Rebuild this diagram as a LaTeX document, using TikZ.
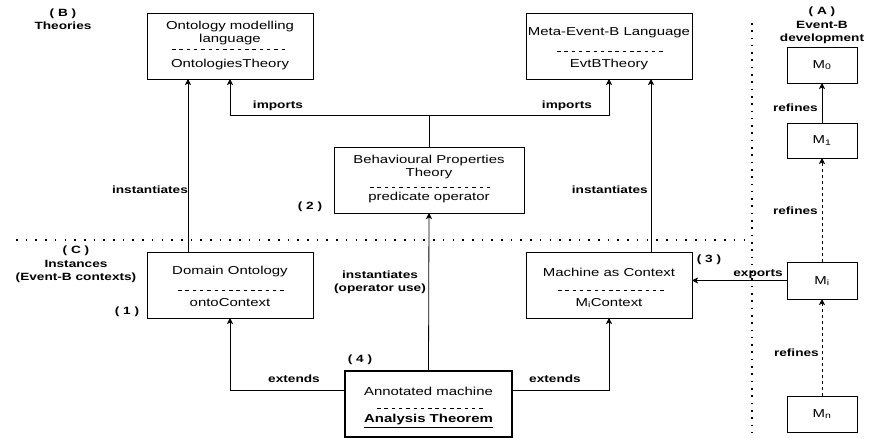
\documentclass[tikz,border=0pt]{standalone}
\usepackage{fontspec}
\setmainfont{Liberation Sans}[FakeStretch=1.3]
\usetikzlibrary{arrows.meta}
\newcommand{\fsz}{\fontsize{11.5}{13.3}\selectfont}
\newcommand{\fsb}{\fontsize{10.5}{13.3}\selectfont\bfseries}
\begin{document}
\begin{tikzpicture}[x=1pt,y=-1pt,
  box/.style={draw, line width=0.8pt, rectangle, inner sep=0pt, outer sep=0pt},
  txt/.style={inner sep=0pt, font=\fsz},
  lbl/.style={inner sep=0pt, font=\fsb, align=center},
  sep/.style={line width=0.7pt, dash pattern=on 3.5pt off 3.8pt},
  arr/.style={line width=0.8pt, -{Stealth[length=6pt,width=6pt,inset=1.5pt]}},
  darr/.style={arr, dash pattern=on 3pt off 3pt},
  hdot/.style={line width=1.6pt, dash pattern=on 1.6pt off 8.1pt},
  vdot/.style={line width=1.6pt, dash pattern=on 1.6pt off 5.7pt}]
\useasboundingbox (0,0) rectangle (870,438);

% boxes
\node[box, minimum width=166pt, minimum height=66pt] (ont) at (230,46) {};
\node[box, minimum width=166pt, minimum height=66pt] (meta) at (609,46) {};
\node[box, minimum width=190pt, minimum height=66pt] (beh) at (429,180) {};
\node[box, minimum width=166pt, minimum height=66pt] (dom) at (230,285) {};
\node[box, minimum width=166pt, minimum height=66pt] (mac) at (609,285) {};
\node[box, line width=1.6pt, minimum width=167pt, minimum height=66pt] (ann) at (428.5,404) {};
\node[box, minimum width=70pt, minimum height=36pt] (m0) at (822,65) {};
\node[box, minimum width=70pt, minimum height=35pt] (m1) at (822,140.5) {};
\node[box, minimum width=70pt, minimum height=37pt] (mi) at (822,280.5) {};
\node[box, minimum width=70pt, minimum height=36pt] (mn) at (822,414) {};

% box texts
\node[txt] (ont1) at (230,27) {Ontology modelling};
\node[txt] (ont2) at (230,40) {language};
\draw[sep] (172,49) -- (287,49);
\node[txt] (ont3) at (230,65) {OntologiesTheory};

\node[txt] (meta1) at (609,33) {Meta-Event-B Language};
\draw[sep] (557,51) -- (665,51);
\node[txt] (meta2) at (609,65) {EvtBTheory};

\node[txt] (beh1) at (429,161) {Behavioural Properties};
\node[txt] (beh2) at (429,174) {Theory};
\draw[sep] (370,187) -- (493,187);
\node[txt] (beh3) at (429,198) {predicate operator};

\node[txt] (dom1) at (230,272) {Domain Ontology};
\draw[sep] (178,290) -- (285,290);
\node[txt] (dom2) at (230,303) {ontoContext};

\node[txt] (mac1) at (609,272) {Machine as Context};
\draw[sep] (558,290) -- (665,290);
\node[txt] (mac2) at (609,303) {M\textsubscript{i}Context};

\node[txt] (ann1) at (428.5,391) {Annotated machine};
\draw[sep] (377,408) -- (485,408);
\node[txt, font=\fsz\bfseries] (ann2) at (428.5,421) {\underline{Analysis Theorem}};

\node[txt] (m0t) at (822,65) {M\textsubscript{0}};
\node[txt] (m1t) at (822,140.5) {M\textsubscript{1}};
\node[txt] (mit) at (822,281) {M\textsubscript{i}};
\node[txt] (mnt) at (822,414) {M\textsubscript{n}};

% separators
\draw[hdot] (16,240) -- (748,240);
\draw[vdot] (752,23) -- (752,432);

% section labels
\node[lbl] (labB) at (63,19) {( B )\\Theories};
\node[lbl] (labA) at (822,25.5) {( A )\\Event-B\\development};
\node[lbl] (labC) at (76,264.5) {( C )\\Instances\\(Event-B contexts)};
\node[lbl] (n1) at (127,312) {( 1 )};
\node[lbl] (n2) at (310,207) {( 2 )};
\node[lbl] (n3) at (709,260) {( 3 )};
\node[lbl] (n4) at (360,360) {( 4 )};

% connectors
\coordinate (jl) at (230,115);
\coordinate (jr) at (609,115);
\draw[line width=0.8pt] (beh.north) -- (beh.north |- jl);
\draw[arr] (beh.north |- jl) -- (jl) -- (ont.south);
\draw[arr] (beh.north |- jr) -- (jr) -- (meta.south);
\node[lbl] (imp1) at (278,106) {imports};
\node[lbl] (imp2) at (567,106) {imports};

\draw[arr] ([xshift=-42pt]dom.north) -- ([xshift=-42pt]ont.south);
\node[lbl] (inst1) at (150,190) {instantiates};
\draw[arr] ([xshift=42pt]mac.north) -- ([xshift=42pt]meta.south);
\node[lbl, anchor=east] (inst2) at (648,190) {instantiates};

\draw[arr] (ann.north) -- (beh.south);
\node[lbl] (inst3) at (380,282) {instantiates\\(operator use)};

\draw[arr] ([yshift=14pt]ann.west) -| (dom.south);
\node[lbl] (ext1) at (294,379) {extends};
\draw[arr] ([yshift=14pt]ann.east) -| (mac.south);
\node[lbl] (ext2) at (555,379) {extends};

\draw[arr] (mi.west) -- (mi.west -| mac.east);
\node[lbl] (exp) at (758,274) {exports};

\draw[arr] (m1.north) -- (m0.south);
\node[lbl, anchor=east] (ref1) at (818,108) {refines};
\draw[darr] (mi.north) -- (m1.south);
\node[lbl, anchor=east] (ref2) at (818,211) {refines};
\draw[darr] (mn.north) -- (mi.south);
\node[lbl, anchor=east] (ref3) at (819,353) {refines};
\end{tikzpicture}
\end{document}
